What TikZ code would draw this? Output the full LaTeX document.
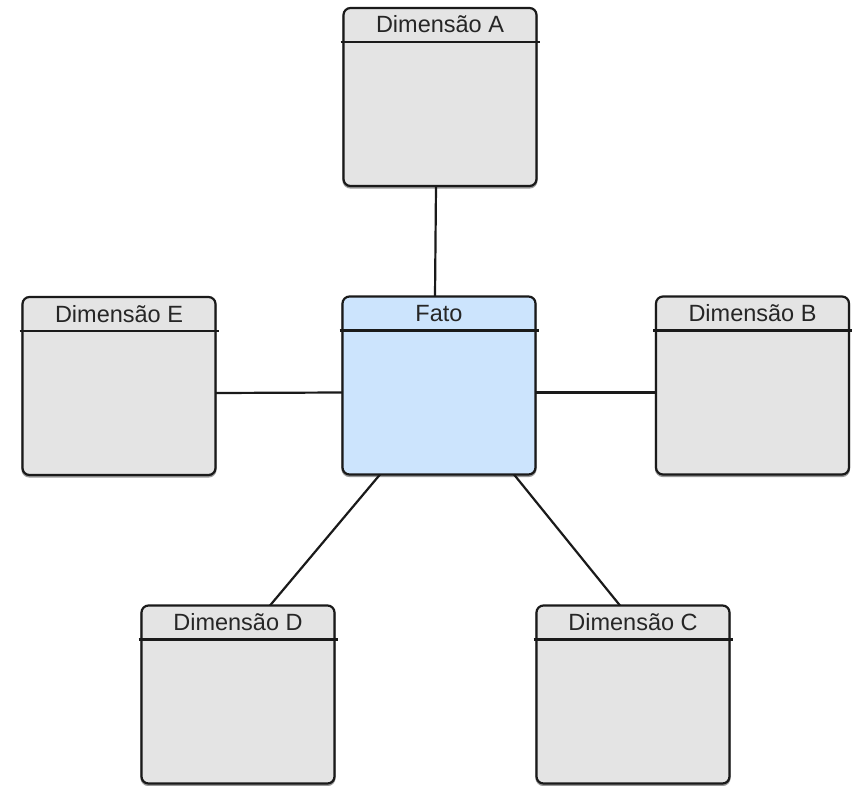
\documentclass[tikz,border=0pt]{standalone}
\usepackage{fontspec}
\setmainfont{Liberation Sans}
\definecolor{dimfill}{HTML}{E4E4E4}
\definecolor{factfill}{HTML}{CCE4FD}
\definecolor{edge}{HTML}{1A1A1A}
\begin{document}
\begin{tikzpicture}[x=1pt,y=-1pt,
  box/.style={draw=edge, line width=2.2pt, rounded corners=7pt,
    minimum width=193pt, minimum height=178pt, inner sep=0pt, outer sep=0pt,
    fill=dimfill,
    preaction={draw=black!40, line width=2.2pt, transform canvas={yshift=-1.5pt}}},
  fact/.style={box, fill=factfill},
  title/.style={anchor=base, font=\fontsize{23.5}{26}\selectfont, text=black!85},
  hdr/.style={draw=edge, line width=2.4pt},
  link/.style={draw=edge, line width=2.2pt}]
\useasboundingbox (0,0) rectangle (853,786);

% tables
\node[box]  (A) at (440,97)    {};
\node[fact] (F) at (439,385.5) {};
\node[box]  (E) at (119,386)   {};
\node[box]  (B) at (752.5,385.5) {};
\node[box]  (D) at (238,694.5) {};
\node[box]  (C) at (633,694.5) {};

% connectors between the fact table and its dimensions
\draw[link] ([xshift=-4pt]A.south) -- ([xshift=-4pt]F.north);
\draw[link] ([yshift=-7pt]E.east) -- ([yshift=-7pt]F.west);
\draw[link] ([yshift=-7pt]F.east) -- ([yshift=-7pt]B.west);
\draw[link] ([xshift=-59pt]F.south) -- ([xshift=32pt]D.north);
\draw[link] ([xshift=75pt]F.south) -- ([xshift=-13pt]C.north);

% header rules and titles
\foreach \n/\t in {A/Dimensão A, F/Fato, E/Dimensão E, B/Dimensão B, D/Dimensão D, C/Dimensão C}{
  \draw[hdr] ([shift={(-3pt,-34pt)}]\n.north west) -- ([shift={(3pt,-34pt)}]\n.north east);
  \node[title] (\n-t) at ([yshift=-25pt]\n.north) {\t};
}
\end{tikzpicture}
\end{document}
